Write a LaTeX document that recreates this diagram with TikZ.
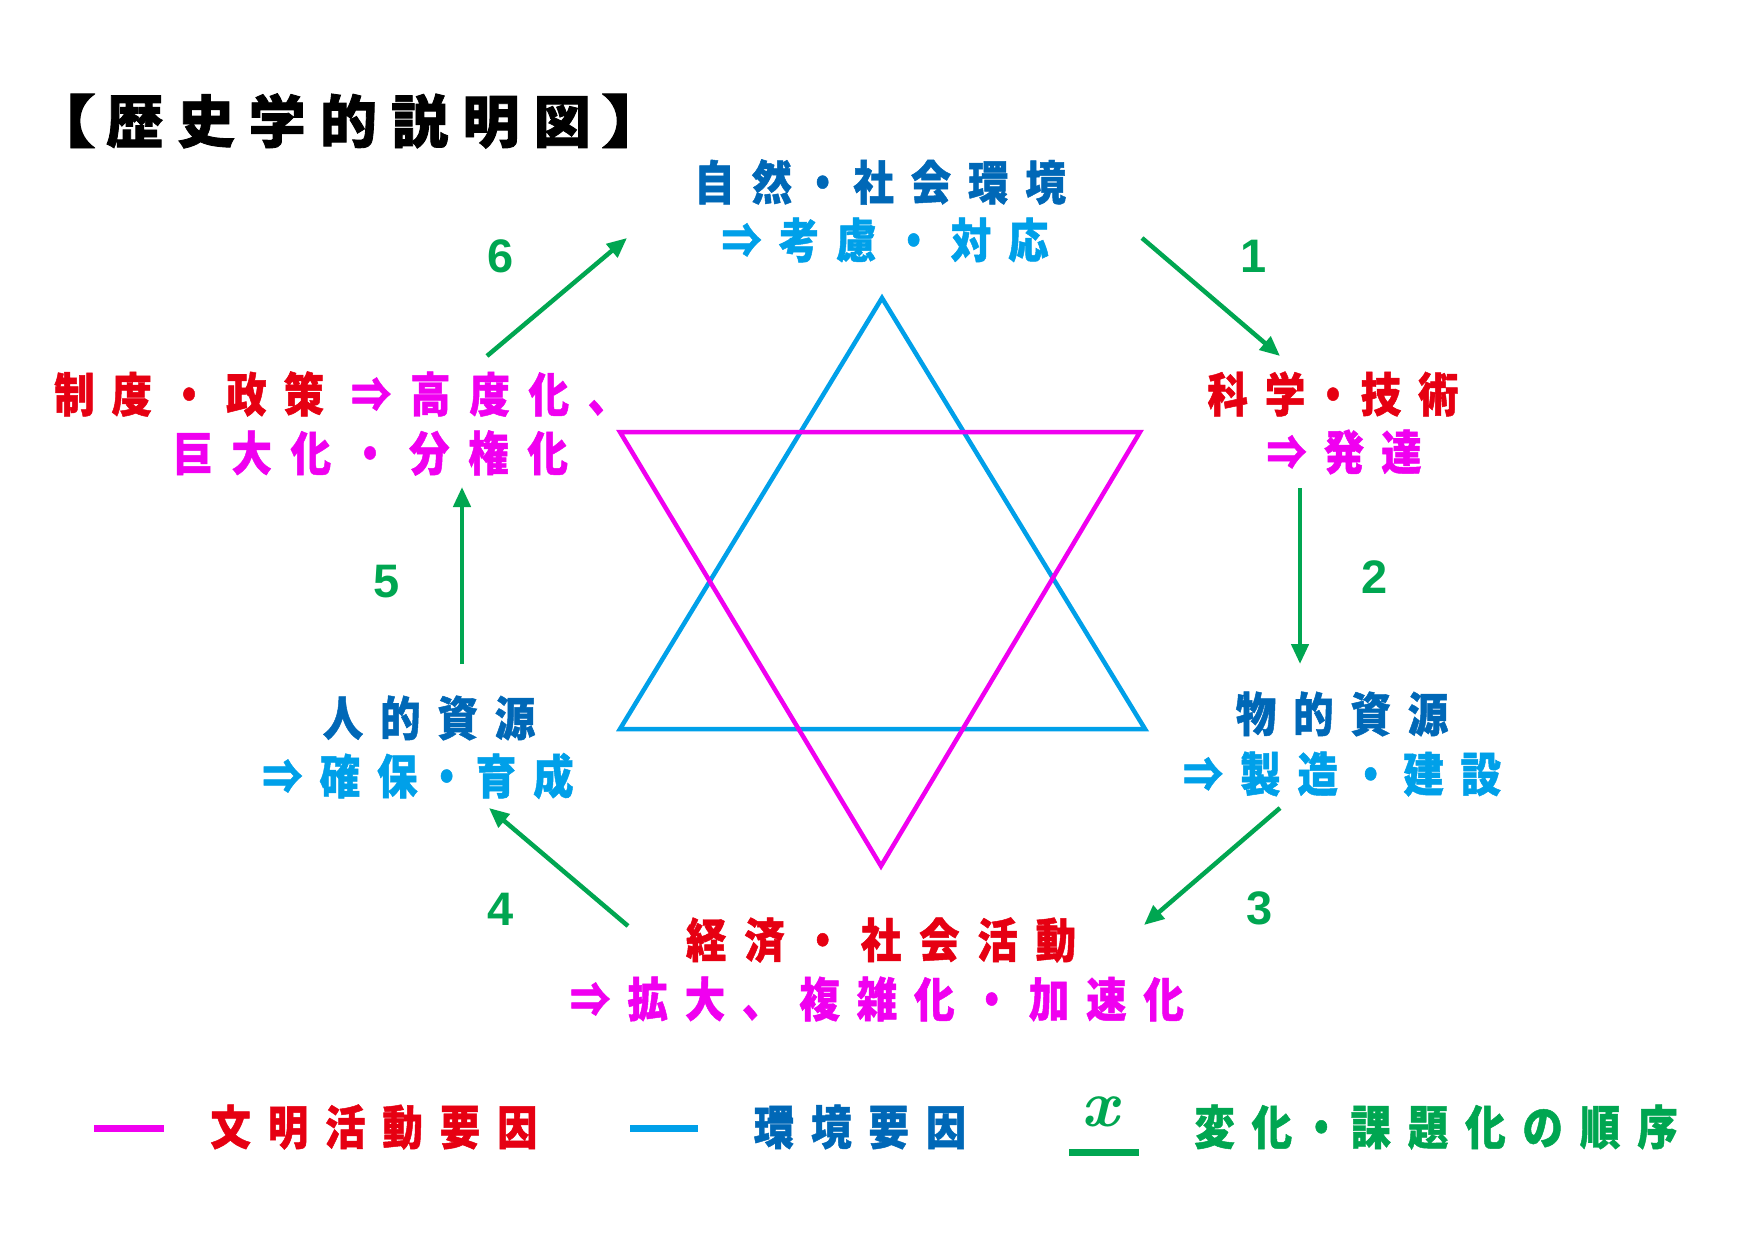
\documentclass[tikz,border=0pt]{standalone}
\usepackage{fontspec}
\usepackage{graphicx}
\usetikzlibrary{arrows.meta}
\newfontfamily\jp{Noto Sans CJK JP}[LetterSpace=36,FakeStretch=0.86]
\newfontfamily\jpt{Noto Sans CJK JP}[LetterSpace=25]
\newfontfamily\numf{Liberation Sans}
\newcommand\tdot[1]{\kern#1pt・\kern#1pt}
\definecolor{cred}{RGB}{230,0,18}
\definecolor{cmag}{RGB}{240,0,240}
\definecolor{ccyan}{RGB}{0,160,233}
\definecolor{cdblue}{RGB}{0,104,183}
\definecolor{cgreen}{RGB}{0,166,81}
\begin{document}
\begin{tikzpicture}[x=1pt,y=-1pt,
  lbl/.style={inner sep=0pt, font=\jp\bfseries\fontsize{47}{52}\selectfont\addfontfeatures{FakeBold=1}},
  num/.style={inner sep=0pt, text=cgreen, font=\numf\bfseries\fontsize{47}{50}\selectfont},
  flow/.style={cgreen, line width=4.5pt, -{Triangle[length=20pt,width=17pt]}},
  tri/.style={line width=4.5pt, line join=miter},
  legline/.style={line width=7pt}]
\useasboundingbox[fill=white] (0,0) rectangle (1755,1241);
% title
\node[inner sep=0pt, anchor=west, font=\jpt\bfseries\fontsize{57}{62}\selectfont\addfontfeatures{FakeBold=1.5}] (title) at (22,121) {\scalebox{1.3}[1]{【}\kern10pt 歴史学的説明図\kern10pt\scalebox{1.3}[1]{】}};
% star
\draw[tri, ccyan] (882,298) -- (620,729) -- (1145,729) -- cycle;
\draw[tri, cmag] (620,432) -- (1140,432) -- (881,866) -- cycle;
% labels
\node[lbl, text=cdblue] (top1) at (880,182) {自然\tdot{10.5}社会環境};
\node[lbl, text=ccyan] (top2) at (885,240) {⇒考慮・対応};
\node[lbl, text=cred] (rt1) at (1333,394) {科学\tdot{7.5}技術};
\node[lbl, text=cmag] (rt2) at (1344,452) {⇒発達};
\node[lbl, text=cdblue] (rb1) at (1342,714) {物的資源};
\node[lbl, text=ccyan] (rb2) at (1342,774) {⇒製造\tdot{12.5}建設};
\node[lbl, text=cred] (bt1) at (881,940) {\addfontfeatures{LetterSpace=38}経済・社会活動};
\node[lbl, text=cmag] (bt2) at (877,999) {⇒拡大、複雑化・加速化};
\node[lbl, text=cdblue] (lb1) at (429,718) {人的資源};
\node[lbl, text=ccyan] (lb2) at (418,776) {⇒確保\tdot{9}育成};
\node[lbl, anchor=west] (lt1) at (54,394) {\textcolor{cred}{制度・政策}\kern27pt\textcolor{cmag}{\addfontfeatures{LetterSpace=40}⇒高度化、}};
\node[lbl, anchor=west, text=cmag] (lt2) at (172,453) {\addfontfeatures{LetterSpace=40}巨大化・分権化};
% arrows
\coordinate (a1s) at (1142,238); \coordinate (a1e) at (1280,356);
\coordinate (a2s) at (1300,488); \coordinate (a2e) at (1300,664);
\coordinate (a3s) at (1280,808); \coordinate (a3e) at (1144,925);
\coordinate (a4s) at (628,926);  \coordinate (a4e) at (489,808);
\coordinate (a5s) at (462,664);  \coordinate (a5e) at (462,487);
\coordinate (a6s) at (487,356);  \coordinate (a6e) at (627,238);
\draw[flow] (a1s) -- (a1e);
\draw[flow] (a2s) -- (a2e);
\draw[flow] (a3s) -- (a3e);
\draw[flow] (a4s) -- (a4e);
\draw[flow] (a5s) -- (a5e);
\draw[flow] (a6s) -- (a6e);
\node[num] (n1) at (1254,256) {1};
\node[num] (n2) at (1375,577) {2};
\node[num] (n3) at (1260,908) {3};
\node[num] (n4) at (501,909) {4};
\node[num] (n5) at (387,582) {5};
\node[num] (n6) at (501,256) {6};
% legend
\coordinate (lm1) at (94,1128); \coordinate (lm2) at (164,1128);
\draw[legline, cmag] (lm1) -- (lm2);
\node[lbl, text=cred] (leg1) at (374,1127) {文明活動要因};
\coordinate (lc1) at (630,1128); \coordinate (lc2) at (698,1128);
\draw[legline, ccyan] (lc1) -- (lc2);
\node[lbl, text=cdblue] (leg2) at (860,1127) {環境要因};
\node[inner sep=0pt, text=cgreen, font=\normalfont\itshape\bfseries\fontsize{66}{70}\selectfont] (legx) at (1100,1112) {x};
\coordinate (lg1) at (1069,1152); \coordinate (lg2) at (1139,1152);
\draw[legline, cgreen] (lg1) -- (lg2);
\node[lbl, text=cgreen] (leg3) at (1436,1127) {変化\tdot{9}課題化の順序};
\end{tikzpicture}
\end{document}
